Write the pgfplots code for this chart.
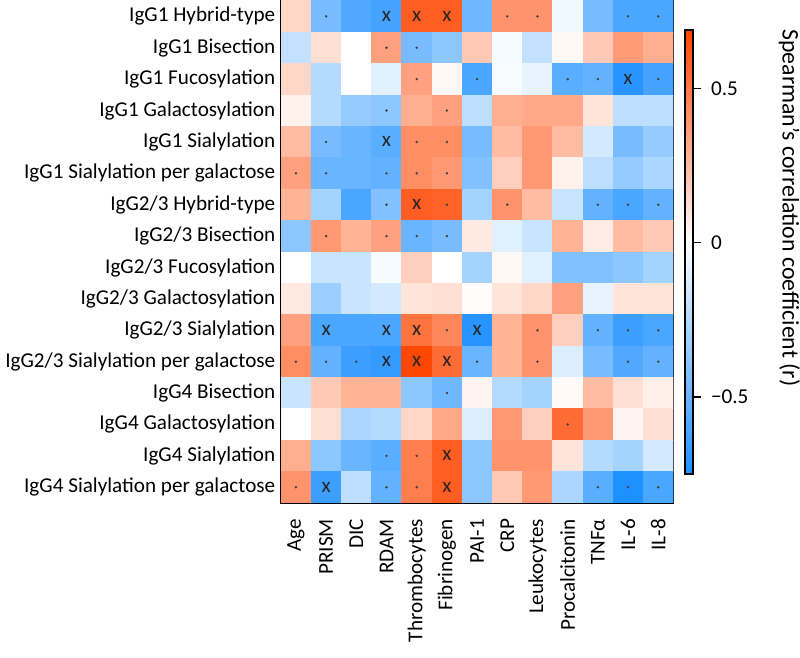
\documentclass[border=0pt]{standalone}
\usepackage{fontspec}
\setmainfont{Carlito}
\usepackage{pgfplots}
\pgfplotsset{compat=1.18}
\newcommand\lab{\fontsize{16}{19}\selectfont}

\begin{document}
\begin{tikzpicture}
\begin{axis}[
    name=main,
    scale only axis,
    width=297pt, height=380pt,
    xmin=-0.5, xmax=12.5, ymin=-0.5, ymax=15.5,
    y dir=reverse,
    axis line style={line width=1pt},
    xtick={0,...,12}, ytick={0,...,15},
    xticklabels={Age,PRISM,DIC,RDAM,Thrombocytes,Fibrinogen,PAI-1,CRP,Leukocytes,Procalcitonin,TNFα,IL-6,IL-8},
    yticklabels={IgG1 Hybrid-type,IgG1 Bisection,IgG1 Fucosylation,IgG1 Galactosylation,IgG1 Sialylation,IgG1 Sialylation per galactose,IgG2/3 Hybrid-type,IgG2/3 Bisection,IgG2/3 Fucosylation,IgG2/3 Galactosylation,IgG2/3 Sialylation,IgG2/3 Sialylation per galactose,IgG4 Bisection,IgG4 Galactosylation,IgG4 Sialylation,IgG4 Sialylation per galactose},
    major tick length=0pt,
    tick label style={font=\lab},
    xticklabel style={rotate=90, anchor=east, inner xsep=12pt},
    yticklabel style={inner xsep=4pt},
    colormap={rb}{rgb255(0pt)=(30,144,255); rgb255(75pt)=(255,255,255); rgb255(144pt)=(255,69,0)},
    point meta min=-0.75, point meta max=0.69,
    colorbar right,
    colorbar style={
        width=6.5pt, height=336pt,
        at={([xshift=2.5pt]parent axis.east)}, anchor=west,
        ytick={-0.5,0,0.5}, yticklabels={−0.5,0,0.5},
        ytick pos=right,
        yticklabel style={font=\lab, xshift=4pt},
        major tick length=6pt, tick align=outside,
        tick style={line width=1.2pt, black},
        axis line style={line width=1.5pt},
    },
]

\addplot[matrix plot*, mesh/cols=13, point meta=explicit]
  table[row sep=\\, meta=c] {
x y c \\
0 0 0.15\\ 1 0 -0.45\\ 2 0 -0.58\\ 3 0 -0.62\\ 4 0 0.60\\ 5 0 0.60\\ 6 0 -0.48\\ 7 0 0.40\\ 8 0 0.40\\ 9 0 -0.05\\ 10 0 -0.45\\ 11 0 -0.60\\ 12 0 -0.60\\
0 1 -0.20\\ 1 1 0.12\\ 2 1 0.00\\ 3 1 0.35\\ 4 1 -0.45\\ 5 1 -0.38\\ 6 1 0.20\\ 7 1 -0.03\\ 8 1 -0.20\\ 9 1 0.03\\ 10 1 0.20\\ 11 1 0.37\\ 12 1 0.30\\
0 2 0.15\\ 1 2 -0.25\\ 2 2 0.00\\ 3 2 -0.10\\ 4 2 0.35\\ 5 2 0.03\\ 6 2 -0.60\\ 7 2 -0.02\\ 8 2 -0.08\\ 9 2 -0.55\\ 10 2 -0.52\\ 11 2 -0.72\\ 12 2 -0.62\\
0 3 0.05\\ 1 3 -0.25\\ 2 3 -0.35\\ 3 3 -0.38\\ 4 3 0.30\\ 5 3 0.35\\ 6 3 -0.22\\ 7 3 0.30\\ 8 3 0.32\\ 9 3 0.32\\ 10 3 0.10\\ 11 3 -0.22\\ 12 3 -0.22\\
0 4 0.25\\ 1 4 -0.45\\ 2 4 -0.50\\ 3 4 -0.55\\ 4 4 0.42\\ 5 4 0.42\\ 6 4 -0.45\\ 7 4 0.25\\ 8 4 0.38\\ 9 4 0.25\\ 10 4 -0.15\\ 11 4 -0.45\\ 12 4 -0.35\\
0 5 0.35\\ 1 5 -0.50\\ 2 5 -0.50\\ 3 5 -0.52\\ 4 5 0.42\\ 5 5 0.38\\ 6 5 -0.42\\ 7 5 0.18\\ 8 5 0.38\\ 9 5 0.05\\ 10 5 -0.22\\ 11 5 -0.35\\ 12 5 -0.28\\
0 6 0.28\\ 1 6 -0.30\\ 2 6 -0.60\\ 3 6 -0.42\\ 4 6 0.60\\ 5 6 0.58\\ 6 6 -0.30\\ 7 6 0.40\\ 8 6 0.25\\ 9 6 -0.18\\ 10 6 -0.52\\ 11 6 -0.60\\ 12 6 -0.52\\
0 7 -0.38\\ 1 7 0.38\\ 2 7 0.28\\ 3 7 0.35\\ 4 7 -0.50\\ 5 7 -0.45\\ 6 7 0.08\\ 7 7 -0.10\\ 8 7 -0.18\\ 9 7 0.28\\ 10 7 0.07\\ 11 7 0.25\\ 12 7 0.20\\
0 8 0.00\\ 1 8 -0.18\\ 2 8 -0.18\\ 3 8 -0.03\\ 4 8 0.18\\ 5 8 0.00\\ 6 8 -0.30\\ 7 8 0.03\\ 8 8 -0.10\\ 9 8 -0.42\\ 10 8 -0.42\\ 11 8 -0.38\\ 12 8 -0.30\\
0 9 0.08\\ 1 9 -0.33\\ 2 9 -0.18\\ 3 9 -0.15\\ 4 9 0.10\\ 5 9 0.12\\ 6 9 0.01\\ 7 9 0.10\\ 8 9 0.15\\ 9 9 0.35\\ 10 9 -0.08\\ 11 9 0.10\\ 12 9 0.10\\
0 10 0.35\\ 1 10 -0.60\\ 2 10 -0.60\\ 3 10 -0.60\\ 4 10 0.52\\ 5 10 0.45\\ 6 10 -0.72\\ 7 10 0.28\\ 8 10 0.40\\ 9 10 0.18\\ 10 10 -0.52\\ 11 10 -0.65\\ 12 10 -0.60\\
0 11 0.42\\ 1 11 -0.52\\ 2 11 -0.65\\ 3 11 -0.68\\ 4 11 0.68\\ 5 11 0.55\\ 6 11 -0.50\\ 7 11 0.28\\ 8 11 0.40\\ 9 11 -0.12\\ 10 11 -0.45\\ 11 11 -0.58\\ 12 11 -0.52\\
0 12 -0.18\\ 1 12 0.20\\ 2 12 0.28\\ 3 12 0.28\\ 4 12 -0.38\\ 5 12 -0.48\\ 6 12 0.04\\ 7 12 -0.25\\ 8 12 -0.30\\ 9 12 0.02\\ 10 12 0.25\\ 11 12 0.12\\ 12 12 0.06\\
0 13 0.00\\ 1 13 0.12\\ 2 13 -0.28\\ 3 13 -0.25\\ 4 13 0.15\\ 5 13 0.32\\ 6 13 -0.12\\ 7 13 0.38\\ 8 13 0.18\\ 9 13 0.55\\ 10 13 0.38\\ 11 13 0.04\\ 12 13 0.12\\
0 14 0.30\\ 1 14 -0.38\\ 2 14 -0.50\\ 3 14 -0.55\\ 4 14 0.48\\ 5 14 0.60\\ 6 14 -0.38\\ 7 14 0.40\\ 8 14 0.40\\ 9 14 0.10\\ 10 14 -0.25\\ 11 14 -0.30\\ 12 14 -0.15\\
0 15 0.40\\ 1 15 -0.65\\ 2 15 -0.22\\ 3 15 -0.52\\ 4 15 0.48\\ 5 15 0.60\\ 6 15 -0.38\\ 7 15 0.20\\ 8 15 0.38\\ 9 15 -0.28\\ 10 15 -0.55\\ 11 15 -0.75\\ 12 15 -0.60\\
};

% p < 0.05 (dots)
\addplot[only marks, mark=*, mark size=0.7pt, black!75] coordinates {
    (1,0) (7,0) (8,0) (11,0) (12,0)
    (3,1) (4,1)
    (4,2) (6,2) (9,2) (10,2) (12,2)
    (3,3) (5,3)
    (1,4) (4,4) (5,4)
    (0,5) (1,5) (3,5) (4,5) (5,5)
    (3,6) (5,6) (7,6) (10,6) (11,6) (12,6)
    (1,7) (3,7) (4,7) (5,7)
    (5,10) (8,10) (10,10) (11,10) (12,10)
    (0,11) (1,11) (2,11) (6,11) (8,11) (11,11) (12,11)
    (5,12)
    (9,13)
    (3,14) (4,14)
    (0,15) (3,15) (4,15) (10,15) (11,15) (12,15)
};

% significant after correction (x)
\addplot[draw=none, mark=none, nodes near coords={x},
    every node near coord/.append style={font=\lab, text=black!85, inner sep=0pt, anchor=center}]
    coordinates {
    (3,0) (4,0) (5,0) (11,2) (3,4) (4,6)
    (1,10) (3,10) (4,10) (6,10) (3,11) (4,11) (5,11)
    (5,14) (1,15) (5,15)
};

\end{axis}
\node[rotate=-90, anchor=north, inner sep=0pt, font=\fontsize{18}{21}\selectfont]
    at ([xshift=96pt, yshift=-156.75pt]main.north east) {Spearman's correlation coefficient (r)};
\end{tikzpicture}
\end{document}
